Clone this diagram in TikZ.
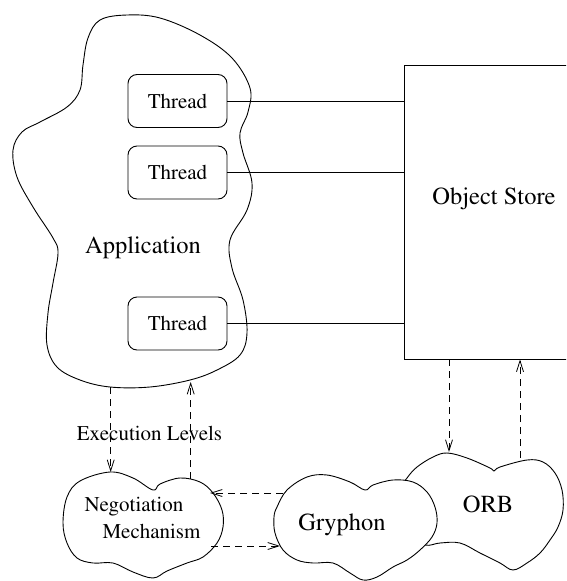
\documentclass[tikz,border=0pt]{standalone}
\usepackage[T1]{fontenc}
\usepackage{times}
\usetikzlibrary{arrows.meta}

\tikzset{
    thread/.style={draw, rounded corners=9pt, minimum width=99pt, minimum height=53pt,
        inner sep=0pt, font=\fontsize{21}{24}\selectfont},
    blob/.style={draw, smooth cycle, tension=0.6},
    flow/.style={dash pattern=on 7pt off 5pt, line width=0.8pt,
        -{Straight Barb[length=11pt,width=7pt]}},
    big/.style={font=\fontsize{24.5}{28}\selectfont},
    mid/.style={font=\fontsize{21}{26.7}\selectfont}
}

\begin{document}
\begin{tikzpicture}[x=1pt, y=-1pt, line width=0.9pt]
        \clip (0,0) rectangle (566,581);

        \draw plot[blob] coordinates {(88,38) (100,20) (127,15) (160,18) (200,35) (232,58)
            (250,88) (248,112) (240,133) (243,153) (252,183) (247,210) (230,240) (232,268)
            (243,300) (247,333) (240,355) (217,370) (190,380) (150,387) (110,387) (80,380)
            (57,367) (47,345) (48,313) (53,283) (58,253) (53,238) (33,207) (17,177) (13,150)
            (22,132) (40,122) (67,107) (80,90) (83,65)};
        \node[big, anchor=base] (app) at (143,253) {Application};

        \node[thread] (t1) at (177.5,101) {Thread};
        \node[thread] (t2) at (177.5,172.5) {Thread};
        \node[thread] (t3) at (177.5,323.5) {Thread};

        \node[draw, minimum width=180pt, minimum height=294pt] (store) at (494,212) {};
        \node[big, anchor=base] (storetxt) at (494,204) {Object Store};

        \draw (t1.east) -- (t1.east -| store.west);
        \draw (t2.east) -- (t2.east -| store.west);
        \draw (t3.east) -- (t3.east -| store.west);

        \draw plot[blob] coordinates {(67,497) (80,481) (110,472) (133,478) (153,490)
            (160,484) (180,478) (200,482) (213,493) (222,510) (223,527) (217,543) (203,557)
            (187,563) (167,571) (153,578) (133,572) (113,563) (93,563) (77,558) (67,543)
            (63,523)};
        \node[mid, align=left] (nego) at (142.5,518) {Negotiation\\\hspace*{18pt}Mechanism};

        \draw plot[blob] coordinates {(407,478) (417,467) (433,457) (447,453) (467,458)
            (490,468) (494,471) (500,467) (527,460) (543,462) (555,473) (562,490) (563,510)
            (558,527) (550,540) (540,553) (527,563) (513,570) (500,563) (480,553) (460,543)
            (440,543) (425,545) (405,535) (398,510) (400,490)};
        \node[big, anchor=base] (orb) at (488,512) {ORB};

        \filldraw[fill=white] plot[blob] coordinates {(277,507) (287,490) (307,477)
            (327,475) (350,482) (365,490) (373,485) (393,480) (413,482) (427,492) (435,507)
            (437,523) (432,537) (420,550) (407,560) (393,567) (377,577) (363,580) (350,573)
            (333,563) (313,563) (297,560) (283,550) (275,533) (274,517)};
        \node[big, anchor=base] (gry) at (342,530) {Gryphon};

        \coordinate (app-s1) at (110.7,387);
        \coordinate (app-s2) at (190.7,382);
        \coordinate (nego-n1) at (110.7,472);
        \coordinate (nego-n2) at (190.7,479);
        \coordinate (nego-e1) at (210,493);
        \coordinate (nego-e2) at (211,546);
        \coordinate (gry-w1) at (283,493);
        \coordinate (gry-w2) at (280,546);
        \coordinate (orb-n1) at (449,452);
        \coordinate (orb-n2) at (520,458);

        \draw[flow] (app-s1) -- (nego-n1);
        \draw[flow] (nego-n2) -- (app-s2);
        \node[mid, anchor=base] (levels) at (149.5,440) {Execution Levels};
        \draw[flow] (gry-w1) -- (nego-e1);
        \draw[flow] (nego-e2) -- (gry-w2);
        \draw[flow] (store.south -| orb-n1) -- (orb-n1);
        \draw[flow] (orb-n2) -- (store.south -| orb-n2);
    \end{tikzpicture}
\end{document}
